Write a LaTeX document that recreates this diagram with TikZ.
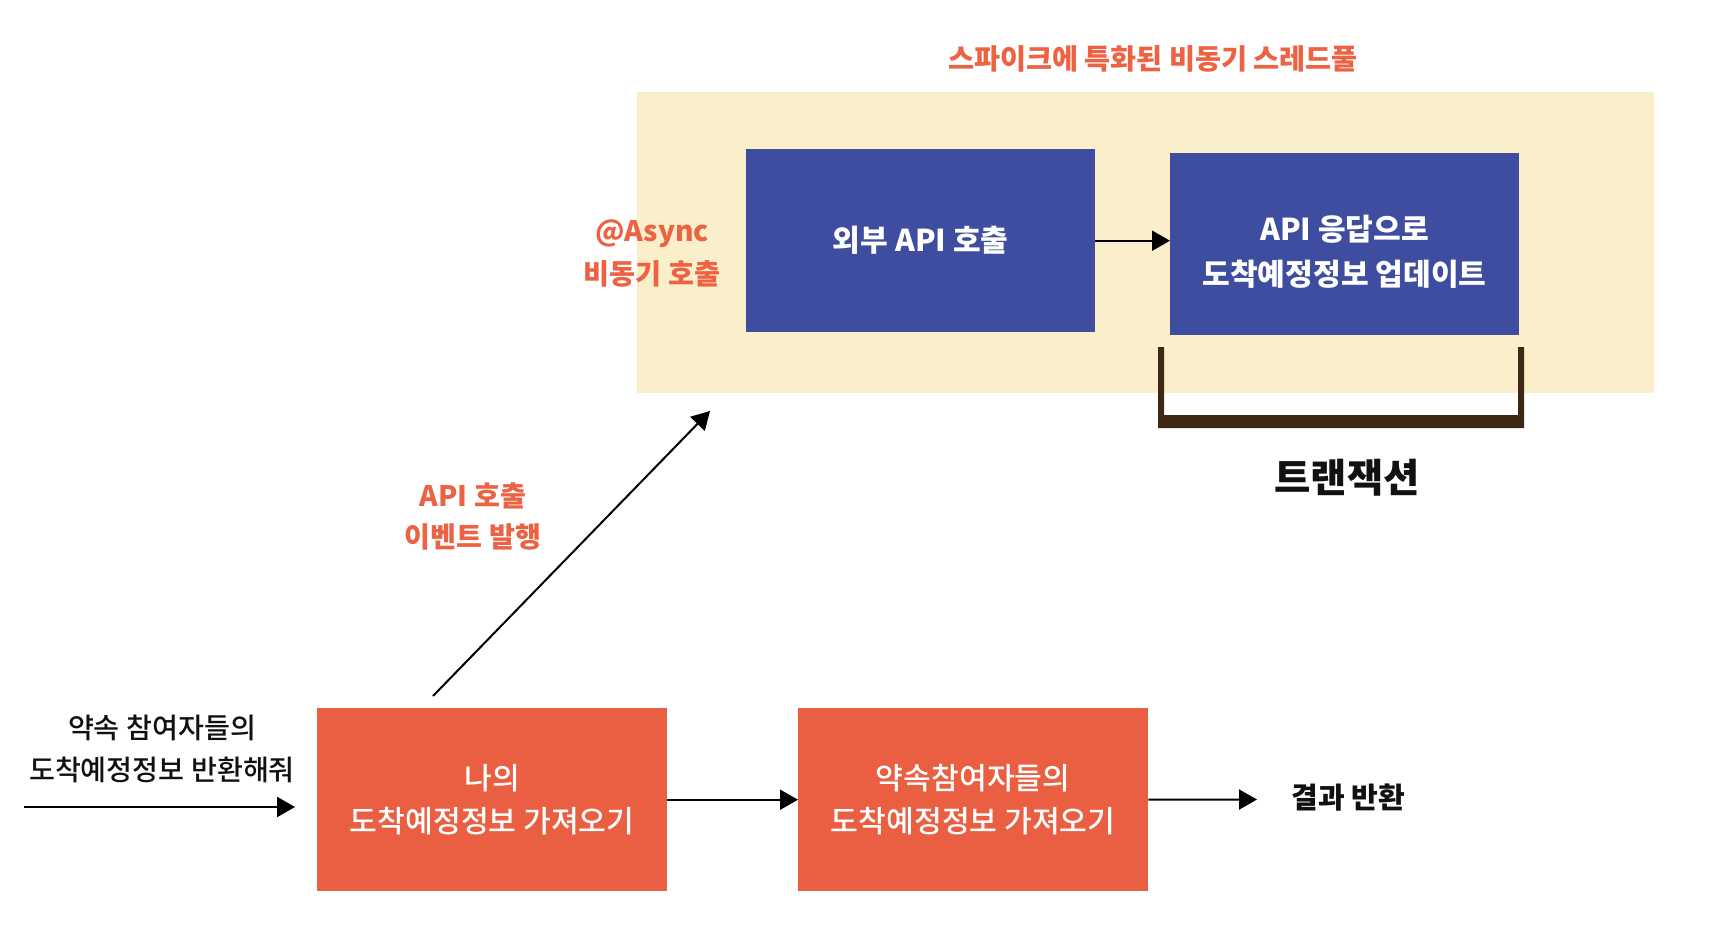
\documentclass[tikz,border=0pt]{standalone}
\usepackage{fontspec}
\setmainfont{Noto Sans CJK KR}
\newfontfamily\krmed{Noto Sans CJK KR Medium}
\usetikzlibrary{arrows.meta}
\definecolor{orng}{RGB}{234,95,65}
\definecolor{orngtxt}{RGB}{236,98,66}
\definecolor{blu}{RGB}{63,77,160}
\definecolor{ylw}{RGB}{251,239,203}
\definecolor{brwn}{RGB}{61,40,22}
\definecolor{ink}{RGB}{17,17,17}
\tikzset{
  arr/.style={-{Triangle[length=18pt,width=20pt]}, line width=2pt, draw=black},
  obox/.style={fill=orng, draw=none, minimum width=350pt, minimum height=183pt, inner sep=0pt, anchor=north west,
    text=white, align=center, font=\krmed\fontsize{30.2pt}{43pt}\selectfont},
  bbox/.style={fill=blu, draw=none, minimum width=349pt, inner sep=0pt, anchor=north west,
    text=white, align=center, font=\bfseries\fontsize{30.1pt}{44.5pt}\selectfont},
  otext/.style={text=orngtxt, align=center, inner sep=0pt},
  ktext/.style={text=ink, align=center, inner sep=0pt},
}
\begin{document}
\begin{tikzpicture}[x=1pt,y=-1pt]
\useasboundingbox (0,0) rectangle (1726,950);
\fill[white] (0,0) rectangle (1726,950);
% async thread pool area
\fill[ylw] (637,92) rectangle (1654,393);
\node[otext, font=\bfseries\fontsize{28.3pt}{30pt}\selectfont] (title) at (1153,59) {스파이크에 특화된 비동기 스레드풀};
% blue boxes
\node[bbox, minimum height=183pt] (b1) at (746,149) {외부 API 호출};
\node[bbox, minimum height=182pt] (b2) at (1170,153) {};
\node[text=white, align=center, inner sep=0pt, font=\bfseries\fontsize{30.1pt}{44.5pt}\selectfont] (b2t) at (1344.5,252) {API 응답으로\\도착예정정보 업데이트};
\draw[arr] (b1.east) -- (b1.east -| b2.west);
% async label
\node[otext, font=\bfseries\fontsize{28.3pt}{43pt}\selectfont] (async) at (652,253.5) {@Async\\비동기 호출};
% transaction bracket
\fill[brwn] (1158,347) -- (1164,347) -- (1164,415) -- (1518,415) -- (1518,347) -- (1524,347) -- (1524,428) -- (1158,428) -- cycle;
\node[ktext, font=\bfseries\fontsize{39.5pt}{42pt}\selectfont] (tx) at (1347,478) {트랜잭션};
% orange boxes
\node[obox] (o1) at (317,708) {나의\\도착예정정보 가져오기};
\node[obox] (o2) at (798,708) {약속참여자들의\\도착예정정보 가져오기};
% left input
\node[ktext, font=\krmed\fontsize{28.2pt}{42pt}\selectfont] (req) at (162,749) {약속 참여자들의\\도착예정정보 반환해줘};
\coordinate (inS) at (24,807);
\coordinate (inE) at (295,807);
\draw[arr] (inS) -- (inE);
\draw[arr] (o1.east) -- (o2.west);
% result
\node[ktext, font=\bfseries\fontsize{29pt}{31pt}\selectfont] (res) at (1348,798) {결과 반환};
\coordinate (resIn) at (1257,799.5);
\draw[arr] (o2.east) -- (resIn);
% event arrow
\coordinate (evS) at (433,696);
\coordinate (evE) at (710,411);
\draw[arr] (evS) -- (evE);
\node[otext, font=\bfseries\fontsize{28.2pt}{41pt}\selectfont] (evt) at (473,516.5) {API 호출\\이벤트 발행};
\end{tikzpicture}
\end{document}
